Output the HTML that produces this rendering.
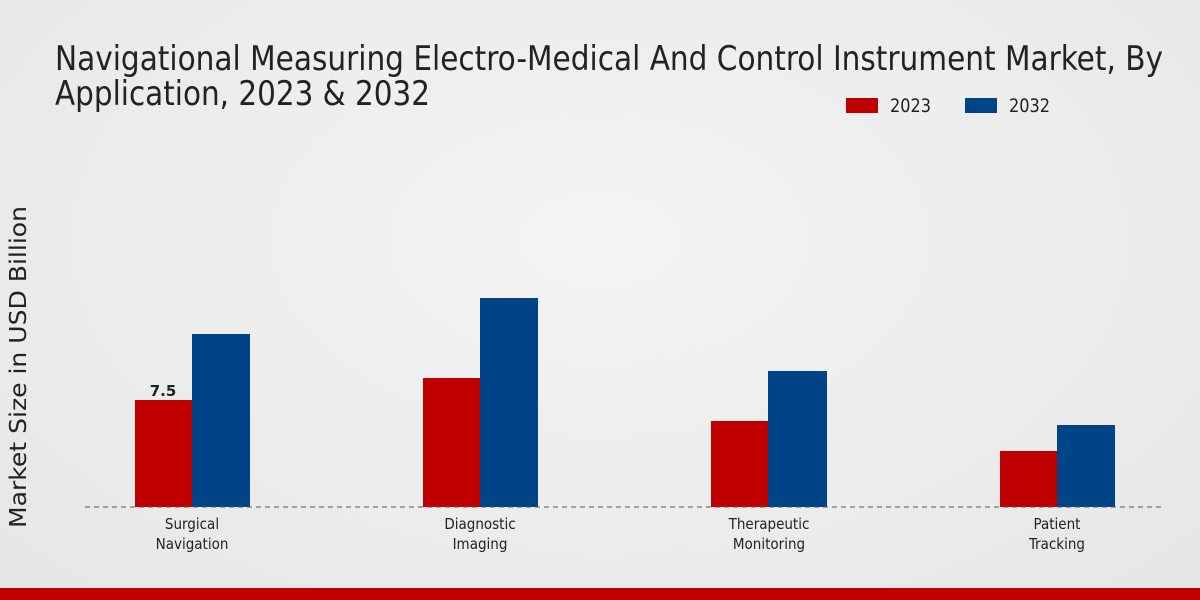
<!DOCTYPE html>
<html><head><meta charset="utf-8"><style>
body{margin:0;width:1200px;height:600px;overflow:hidden;background:radial-gradient(ellipse at 50% 40%,#f4f4f4 0%,#e6e6e6 100%);font-family:"Liberation Sans Narrow","DejaVu Sans Condensed","Liberation Sans",sans-serif;}
</style></head><body>
<svg width="1200" height="600" xmlns="http://www.w3.org/2000/svg" style="position:absolute;left:0;top:0">
<text x="55" y="70" font-size="34" fill="#222" textLength="1108" lengthAdjust="spacingAndGlyphs" style="font-family:'Liberation Sans Narrow','DejaVu Sans Condensed',sans-serif">Navigational Measuring Electro-Medical And Control Instrument Market, By</text>
<text x="55" y="105" font-size="34" fill="#222" textLength="375" lengthAdjust="spacingAndGlyphs" style="font-family:'Liberation Sans Narrow','DejaVu Sans Condensed',sans-serif">Application, 2023 &amp; 2032</text>
<rect x="846" y="98" width="32" height="15" fill="#c00000"/>
<text x="890" y="112" font-size="19" fill="#222" textLength="41" lengthAdjust="spacingAndGlyphs">2023</text>
<rect x="965" y="98" width="32" height="15" fill="#004488"/>
<text x="1009" y="112" font-size="19" fill="#222" textLength="41" lengthAdjust="spacingAndGlyphs">2032</text>
<text transform="translate(26,367) rotate(-90)" text-anchor="middle" font-size="23" fill="#222" textLength="322" lengthAdjust="spacingAndGlyphs" style="font-family:'DejaVu Sans','Liberation Sans',sans-serif">Market Size in USD Billion</text>
<rect x="135" y="400" width="57" height="107" fill="#c00000"/>
<rect x="192" y="334" width="58" height="173" fill="#004488"/>
<rect x="423" y="378" width="57" height="129" fill="#c00000"/>
<rect x="480" y="298" width="58" height="209" fill="#004488"/>
<rect x="711" y="421" width="57" height="86" fill="#c00000"/>
<rect x="768" y="371" width="59" height="136" fill="#004488"/>
<rect x="1000" y="451" width="57" height="56" fill="#c00000"/>
<rect x="1057" y="425" width="58" height="82" fill="#004488"/>
<text x="163" y="396" text-anchor="middle" font-size="15" font-weight="bold" fill="#222" style="font-family:'DejaVu Sans',sans-serif">7.5</text>
<line x1="85" y1="507" x2="1165" y2="507" stroke="#555" stroke-width="1" stroke-dasharray="5,4"/>
<g font-size="15" fill="#222" text-anchor="middle">
<text x="192" y="529">Surgical</text><text x="192" y="549">Navigation</text>
<text x="480" y="529">Diagnostic</text><text x="480" y="549">Imaging</text>
<text x="769" y="529">Therapeutic</text><text x="769" y="549">Monitoring</text>
<text x="1057" y="529">Patient</text><text x="1057" y="549">Tracking</text>
</g>
<rect x="0" y="588" width="1200" height="12" fill="#c00000"/>
</svg>
</body></html>
